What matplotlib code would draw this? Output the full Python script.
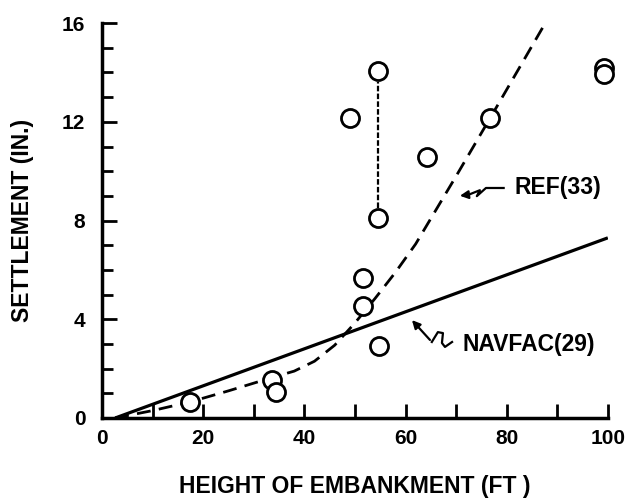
import matplotlib
matplotlib.use('Agg')
import matplotlib.pyplot as plt
import numpy as np

# measured points (height of embankment, settlement)
height_pts = [17.4, 33.6, 34.4, 49.0, 54.5, 54.5, 51.6, 51.6, 54.7, 64.2, 76.7, 99.2, 99.2]
settle_pts = [0.65, 1.55, 1.05, 12.15, 14.05, 8.1, 5.67, 4.54, 2.92, 10.57, 12.15, 14.2, 13.95]

# range bar joining the two readings at the same height
range_x = [54.5, 54.5]
range_y = [8.5, 13.6]

# REF(33) curve
ref_x = [2.6, 10, 17.4, 25, 33, 38, 42, 46, 50, 54, 58, 62, 70, 78, 87.2]
ref_y = [0, 0.3, 0.65, 1.1, 1.6, 1.9, 2.3, 2.95, 3.85, 4.85, 5.9, 7.05, 9.8, 12.6, 15.85]

# NAVFAC(29) line
navfac_x = [2.6, 100]
navfac_y = [0, 7.3]

plt.rcParams['font.family'] = ['Liberation Sans', 'DejaVu Sans']
plt.rcParams['font.weight'] = 'bold'

fig = plt.figure(figsize=(6.26, 5.03), dpi=100)
ax = fig.add_axes([0.163, 0.169, 0.808, 0.785])

ax.plot(navfac_x, navfac_y, color='black', lw=2.3, solid_capstyle='butt')
ax.plot(ref_x, ref_y, color='black', lw=2.0, dashes=[5, 3])
ax.plot(range_x, range_y, color='black', lw=1.6, dashes=[2.5, 1])
ax.plot(height_pts, settle_pts, linestyle='none', marker='o', markersize=13,
        markerfacecolor='white', markeredgecolor='black', markeredgewidth=2,
        clip_on=False, zorder=5)

# REF(33) label with zigzag pointer
ax.plot([79.4, 75.9, 74.1, 74.7, 72.5], [9.32, 9.32, 8.99, 9.23, 9.05], color='black', lw=1.6)
ax.annotate('', xy=(70.2, 8.99), xytext=(72.5, 9.05),
            arrowprops=dict(arrowstyle='-|>', color='black', lw=1.6, mutation_scale=12))
ax.text(81.6, 9.32, 'REF(33)', fontsize=16.5, fontweight='bold', va='center', ha='left')

# NAVFAC(29) label with squiggle pointer
ax.plot([65.2, 66.4, 67.4, 67.2, 67.8, 69.2], [3.08, 3.48, 3.44, 3.04, 2.88, 3.08], color='black', lw=1.6)
ax.annotate('', xy=(60.9, 4.05), xytext=(65.2, 3.08),
            arrowprops=dict(arrowstyle='-|>', color='black', lw=1.6, mutation_scale=12))
ax.text(71.3, 2.96, 'NAVFAC(29)', fontsize=16.5, fontweight='bold', va='center', ha='left')

ax.set_xlim(0, 100)
ax.set_ylim(0, 16)
ax.set_xticks(np.arange(0, 101, 20))
ax.set_xticks(np.arange(0, 101, 10), minor=True)
ax.set_yticks(np.arange(0, 17, 4))
ax.set_yticks(np.arange(0, 17, 1), minor=True)

ax.tick_params(axis='x', which='both', direction='in', length=10, width=2, labelsize=15, pad=8)
ax.tick_params(axis='y', which='major', direction='in', length=11, width=2, labelsize=15, pad=12)
ax.tick_params(axis='y', which='minor', direction='in', length=8, width=2)

for s in ['top', 'right']:
    ax.spines[s].set_visible(False)
for s in ['left', 'bottom']:
    ax.spines[s].set_linewidth(2.5)

ax.set_xlabel('HEIGHT OF EMBANKMENT (FT )', fontsize=16.5, fontweight='bold')
ax.set_ylabel('SETTLEMENT (IN.)', fontsize=16.5, fontweight='bold')
ax.xaxis.set_label_coords(0.5, -0.145)
ax.yaxis.set_label_coords(-0.135, 0.5)

plt.savefig('out.png', dpi=100)
